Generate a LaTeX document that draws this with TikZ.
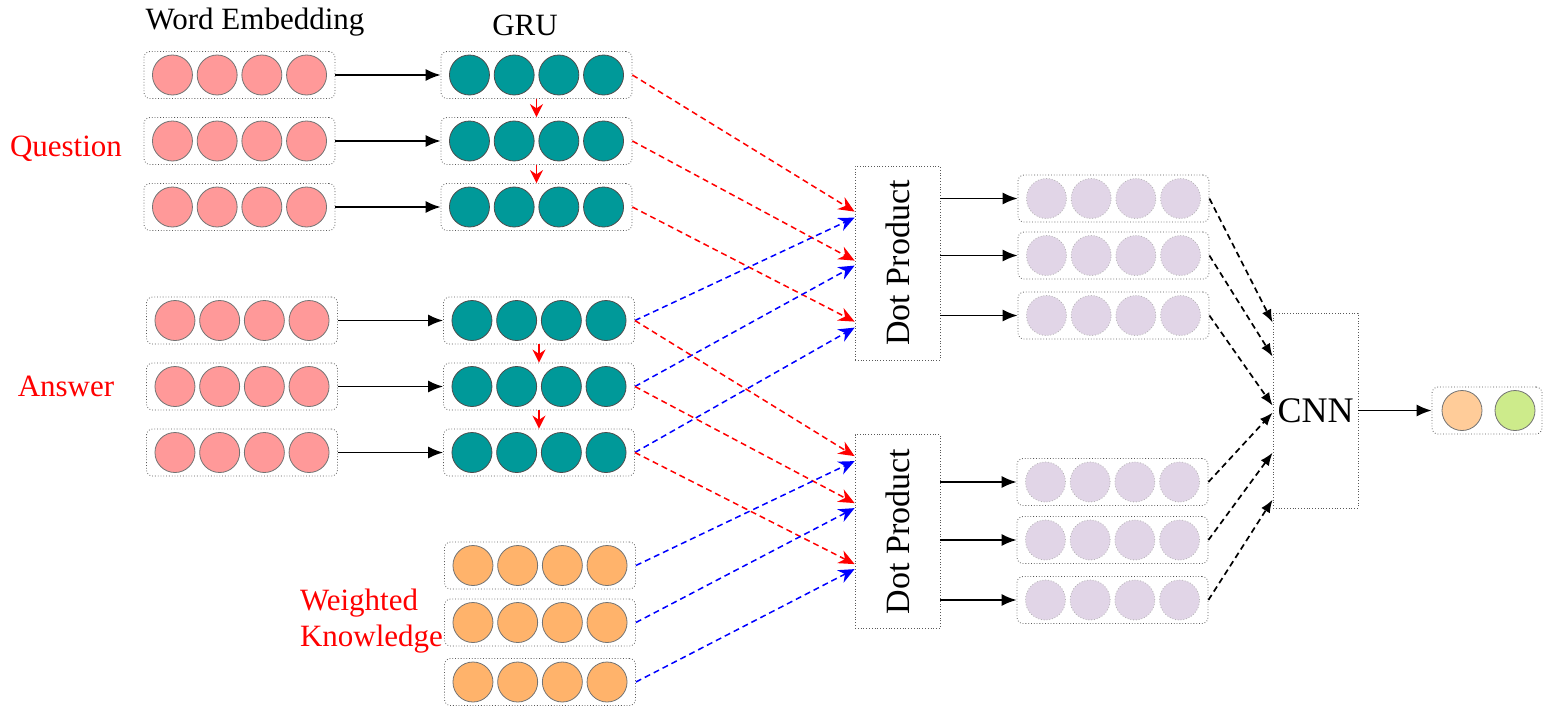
\documentclass[tikz,border=0pt]{standalone}
\usepackage{fontspec}
\setmainfont{Liberation Serif}
\usetikzlibrary{arrows.meta,positioning}
\definecolor{embpink}{RGB}{255,153,153}
\definecolor{gruteal}{RGB}{0,153,153}
\definecolor{knworange}{RGB}{255,179,107}
\definecolor{dotpurple}{RGB}{225,213,231}
\definecolor{outorange}{RGB}{255,204,153}
\definecolor{outgreen}{RGB}{205,235,139}
\tikzset{
	layer/.style={draw=black!65, densely dotted, rounded corners=3pt, minimum width=95.5pt, minimum height=23.5pt, inner sep=0pt},
	block/.style={draw=black!65, densely dotted, minimum width=42.5pt, minimum height=97pt, inner sep=0pt},
	unit/.style={circle, draw=black!55, thin, minimum size=20pt, inner sep=0pt},
	emb/.style={unit, fill=embpink},
	gru/.style={unit, fill=gruteal, draw=black!70},
	knw/.style={unit, fill=knworange},
	dot/.style={unit, fill=dotpurple, draw=black!30, densely dotted},
	feed/.style={-{Latex[length=7.5pt,width=6pt]}, line width=0.8pt}, % solid black arrows
	rec/.style={-{Stealth[length=6.5pt,width=6.5pt]}, red, line width=0.8pt},
	qa/.style={-{Stealth[length=8pt,width=7pt]}, red, dash pattern=on 3pt off 2pt, line width=0.75pt},
	kn/.style={qa, blue},
	pool/.style={-{Latex[length=6.5pt,width=5pt]}, dash pattern=on 3pt off 2pt, line width=0.85pt},
	lbl/.style={font=\fontsize{15.5}{18}\selectfont},
	tag/.style={lbl, text=red},
}
% a row of four units in a rounded box
\newcommand{\vecrow}[4]{%
	\node[layer] (#1) at (#2,#3) {};
	\foreach \k in {-1.5,-0.5,0.5,1.5}
		\node[#4] at ([xshift=\k*22.35pt]#1.center) {};
}

\begin{document}
\begin{tikzpicture}[x=0.5pt, y=-0.5pt]
	\useasboundingbox (0,0) rectangle (1557,713);

	% headers and side labels
	\node[lbl] (wordlbl) at (255,22) {Word Embedding};
	\node[lbl] (grulbl) at (525,25) {GRU};
	\node[tag] (qlbl) at (66,149) {Question};
	\node[tag] (albl) at (66,386) {Answer};
	\node[tag, align=left, anchor=west] (klbl) at (293,621) {Weighted\\Knowledge};

	% question
	\vecrow{qe1}{239.5}{75}{emb}
	\vecrow{qe2}{239.5}{141}{emb}
	\vecrow{qe3}{239.5}{207}{emb}
	\vecrow{qg1}{536.5}{75}{gru}
	\vecrow{qg2}{536.5}{141}{gru}
	\vecrow{qg3}{536.5}{207}{gru}

	% answer
	\vecrow{ae1}{242}{320.5}{emb}
	\vecrow{ae2}{242}{386.5}{emb}
	\vecrow{ae3}{242}{452.5}{emb}
	\vecrow{ag1}{539}{320.5}{gru}
	\vecrow{ag2}{539}{386.5}{gru}
	\vecrow{ag3}{539}{452.5}{gru}

	% weighted knowledge
	\vecrow{kw1}{540}{565.5}{knw}
	\vecrow{kw2}{540}{622.5}{knw}
	\vecrow{kw3}{540}{682}{knw}

	% dot products
	\node[block] (dp1) at (897.5,263) {};
	\node[lbl, font=\fontsize{17}{20}\selectfont, rotate=90] (dp1txt) at (dp1.center) {Dot Product};
	\node[block] (dp2) at (897.5,531.5) {};
	\node[lbl, font=\fontsize{17}{20}\selectfont, rotate=90] (dp2txt) at (dp2.center) {Dot Product};

	\vecrow{pa1}{1113.5}{198.5}{dot}
	\vecrow{pa2}{1113.5}{255.5}{dot}
	\vecrow{pa3}{1113.5}{315.5}{dot}
	\vecrow{pb1}{1112.5}{482}{dot}
	\vecrow{pb2}{1112.5}{540}{dot}
	\vecrow{pb3}{1112.5}{600}{dot}

	% cnn and output
	\node[block, minimum height=97.5pt] (cnn) at (1315.5,410.5) {};
	\node[lbl, font=\fontsize{18}{20}\selectfont] (cnntxt) at (cnn.center) {CNN};
	\node[layer, minimum width=55pt] (out) at (1487,410.5) {};
	\node[unit, fill=outorange] (out1) at ([xshift=-12.5pt]out.center) {};
	\node[unit, fill=outgreen] (out2) at ([xshift=14pt]out.center) {};

	% embedding -> gru
	\foreach \r in {1,2,3} {
		\draw[feed] (qe\r) -- (qg\r);
		\draw[feed] (ae\r) -- (ag\r);
	}
	\draw[rec] (qg1) -- (qg2);
	\draw[rec] (qg2) -- (qg3);
	\draw[rec] (ag1) -- (ag2);
	\draw[rec] (ag2) -- (ag3);

	% into first dot product
	\draw[qa] (qg1.east) -- ([yshift=-23pt]dp1.north west);
	\draw[qa] (qg2.east) -- ([yshift=-47.5pt]dp1.north west);
	\draw[qa] (qg3.east) -- ([yshift=-78pt]dp1.north west);
	\draw[kn] (ag1.east) -- ([yshift=-26pt]dp1.north west);
	\draw[kn] (ag2.east) -- ([yshift=-50pt]dp1.north west);
	\draw[kn] (ag3.east) -- ([yshift=-81pt]dp1.north west);

	% into second dot product
	\draw[qa] (ag1.east) -- ([yshift=-11pt]dp2.north west);
	\draw[qa] (ag2.east) -- ([yshift=-34.5pt]dp2.north west);
	\draw[qa] (ag3.east) -- ([yshift=-65pt]dp2.north west);
	\draw[kn] (kw1.east) -- ([yshift=-13.5pt]dp2.north west);
	\draw[kn] (kw2.east) -- ([yshift=-37pt]dp2.north west);
	\draw[kn] (kw3.east) -- ([yshift=-67.5pt]dp2.north west);

	% dot product -> matrices
	\foreach \r in {1,2,3} {
		\draw[feed] (dp1.east |- pa\r.west) -- (pa\r.west);
		\draw[feed] (dp2.east |- pb\r.west) -- (pb\r.west);
	}

	% matrices -> cnn
	\draw[pool] (pa1.east) -- ([yshift=-5pt]cnn.north west);
	\draw[pool] (pa2.east) -- ([yshift=-22pt]cnn.north west);
	\draw[pool] (pa3.east) -- ([yshift=-46.5pt]cnn.north west);
	\draw[pool] (pb1.east) -- ([yshift=-50pt]cnn.north west);
	\draw[pool] (pb2.east) -- ([yshift=-70pt]cnn.north west);
	\draw[pool] (pb3.east) -- ([yshift=-93.5pt]cnn.north west);

	\draw[feed] (cnn) -- (out);
\end{tikzpicture}
\end{document}
